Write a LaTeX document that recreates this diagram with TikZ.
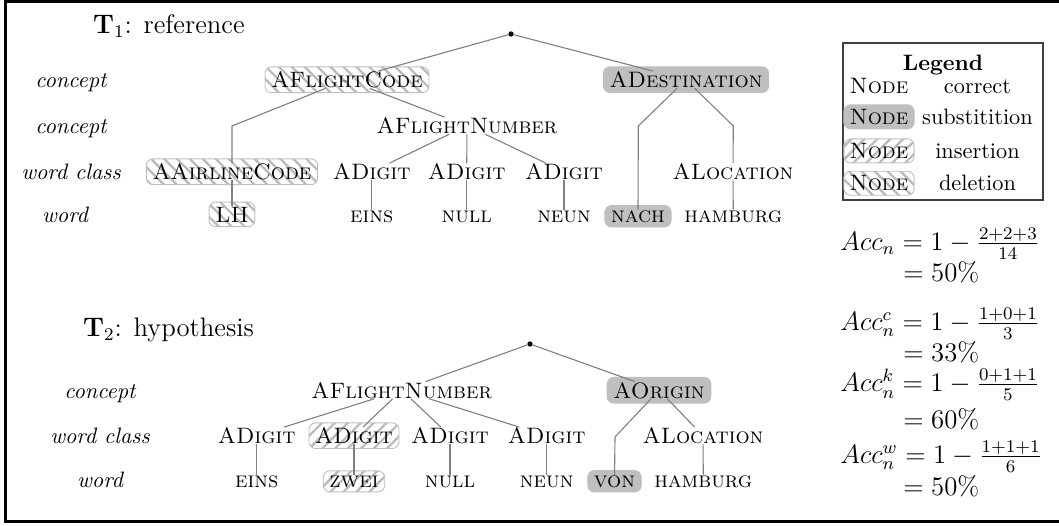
\documentclass[tikz,border=0pt]{standalone}
\usepackage{amsmath}
\usetikzlibrary{fit,backgrounds,patterns.meta}
\begin{document}
\begin{tikzpicture}[x=0.4484pt,y=-0.4484pt,
  tn/.style={inner sep=0pt, anchor=base},
  lab/.style={inner sep=0pt, anchor=base, font=\itshape},
  link/.style={draw=gray, line width=0.5pt},
  rootdot/.style={circle, fill=black, inner sep=0pt, minimum size=2.4pt},
  boxbase/.style={rounded corners=3pt, inner xsep=2.6pt, inner ysep=1.9pt},
  subbox/.style={boxbase, fill=gray!50, draw=gray!50, line width=0.4pt},
  hatchbox/.style={boxbase, draw=gray!50, line width=0.4pt, pattern color=gray!55},
  insbox/.style={hatchbox, pattern={Lines[angle=45,distance=4.1pt,line width=1pt]}},
  delbox/.style={hatchbox, pattern={Lines[angle=-45,distance=4.1pt,line width=1pt]}},
  eqn/.style={inner sep=0pt, anchor=base west, font=\large},
]
\useasboundingbox (0,0) rectangle (1059,525);

% outer frame (open on the right)
\draw[line width=1.2pt] (1060,1.5) -- (5.5,1.5) -- (5.5,521.5) -- (1060,521.5);

% ---------------- T1: reference ----------------
\node[eqn] (t1) at (92.7,33.3) {$\mathbf{T}_1$: reference};

\node[lab] (c1a) at (71,87.5)  {concept};
\node[lab] (c1b) at (71,133.5) {concept};
\node[lab] (c1c) at (71,179.5) {word class};
\node[lab] (c1d) at (65,222)   {word};

\node[rootdot] (r1) at (511,34) {};
\node[tn] (afc) at (347,87.5)  {\textsc{AFlightCode}};
\node[tn] (ade) at (686,87.5)  {\textsc{ADestination}};
\node[tn] (afn) at (467,133.5) {\textsc{AFlightNumber}};
\node[tn] (aac) at (232,179.5) {\textsc{AAirlineCode}};
\node[tn] (ad1) at (371.7,179.5) {\textsc{ADigit}};
\node[tn] (ad2) at (466.7,179.5) {\textsc{ADigit}};
\node[tn] (ad3) at (564,179.5) {\textsc{ADigit}};
\node[tn] (alo) at (733,179.5) {\textsc{ALocation}};
\node[tn] (lh)  at (232,222)   {\textsc{LH}};
\node[tn] (w1)  at (371.7,222) {\textsc{eins}};
\node[tn] (w2)  at (466.7,222) {\textsc{null}};
\node[tn] (w3)  at (564,222)   {\textsc{neun}};
\node[tn] (nach) at (638,222)  {\textsc{nach}};
\node[tn] (hh)  at (733.3,222) {\textsc{hamburg}};

\coordinate (k1) at (232,126);
\coordinate (k2) at (638.3,126);
\coordinate (k3) at (733.3,126);

\begin{pgfonlayer}{background}
  \node[delbox, fit=(afc)] {};
  \node[delbox, fit=(aac)] {};
  \node[delbox, fit=(lh)] {};
  \node[subbox, fit=(ade)] {};
  \node[subbox, fit=(nach)] {};
\end{pgfonlayer}

\draw[link] (r1) -- (afc);
\draw[link] (r1) -- (ade);
\draw[link] (afc) -- (k1) -- (aac);
\draw[link] (aac) -- (lh);
\draw[link] (afc) -- (afn);
\draw[link] (afn) -- (ad1);
\draw[link] (afn) -- (ad2);
\draw[link] (afn) -- (ad3);
\draw[link] (ad1) -- (w1);
\draw[link] (ad2) -- (w2);
\draw[link] (ad3) -- (w3);
\draw[link] (ade) -- (k2) -- (nach);
\draw[link] (ade) -- (k3) -- (alo);
\draw[link] (alo) -- (hh);

% ---------------- T2: hypothesis ----------------
\node[eqn] (t2) at (82.7,336.7) {$\mathbf{T}_2$: hypothesis};

\node[lab] (c2a) at (100,398)   {concept};
\node[lab] (c2b) at (100,443.5) {word class};
\node[lab] (c2c) at (100,487)   {word};

\node[rootdot] (r2) at (530,344) {};
\node[tn] (bfn) at (401.7,398) {\textsc{AFlightNumber}};
\node[tn] (bor) at (659,398)   {\textsc{AOrigin}};
\node[tn] (bd1) at (256.7,443.5) {\textsc{ADigit}};
\node[tn] (bd2) at (354,443.5) {\textsc{ADigit}};
\node[tn] (bd3) at (450,443.5) {\textsc{ADigit}};
\node[tn] (bd4) at (546.7,443.5) {\textsc{ADigit}};
\node[tn] (blo) at (703,443.5) {\textsc{ALocation}};
\node[tn] (v1)  at (256.7,487) {\textsc{eins}};
\node[tn] (v2)  at (354,487)   {\textsc{zwei}};
\node[tn] (v3)  at (450,487)   {\textsc{null}};
\node[tn] (v4)  at (546.7,487) {\textsc{neun}};
\node[tn] (von) at (614.5,487) {\textsc{von}};
\node[tn] (bhh) at (703.3,487) {\textsc{hamburg}};

\coordinate (k4) at (615,437);

\begin{pgfonlayer}{background}
  \node[insbox, fit=(bd2)] {};
  \node[insbox, fit=(v2)] {};
  \node[subbox, fit=(bor)] {};
  \node[subbox, fit=(von)] {};
\end{pgfonlayer}

\draw[link] (r2) -- (bfn);
\draw[link] (r2) -- (bor);
\draw[link] (bfn) -- (bd1);
\draw[link] (bfn) -- (bd2);
\draw[link] (bfn) -- (bd3);
\draw[link] (bfn) -- (bd4);
\draw[link] (bd1) -- (v1);
\draw[link] (bd2) -- (v2);
\draw[link] (bd3) -- (v3);
\draw[link] (bd4) -- (v4);
\draw[link] (bor) -- (k4) -- (von);
\draw[link] (bor) -- (blo);
\draw[link] (blo) -- (bhh);

% ---------------- legend ----------------
\draw[black!75, line width=0.5pt] (843,43) rectangle (1043,200);
\node[tn, font=\bfseries] (lgt) at (943,70) {Legend};
\node[tn] (lg1) at (879,93.3)  {\textsc{Node}};
\node[tn, subbox] (lg2) at (879,124.3) {\textsc{Node}};
\node[tn, insbox] (lg3) at (879,158.3) {\textsc{Node}};
\node[tn, delbox] (lg4) at (879,190.7) {\textsc{Node}};
\node[tn] (lt1) at (977.5,93.3)  {correct};
\node[tn] (lt2) at (977.5,124.3) {substitition};
\node[tn] (lt3) at (977.5,158.3) {insertion};
\node[tn] (lt4) at (977.5,190.7) {deletion};

% ---------------- accuracies ----------------
\node[eqn] (e1a) at (840,250)   {$Acc_n = 1 - \tfrac{2+2+3}{14}$};
\node[eqn] (e1b) at (903,281)   {$= 50\%$};
\node[eqn] (e2a) at (840,330)   {$Acc^c_n = 1 - \tfrac{1+0+1}{3}$};
\node[eqn] (e2b) at (903,361.5) {$= 33\%$};
\node[eqn] (e3a) at (840,391.5) {$Acc^k_n = 1 - \tfrac{0+1+1}{5}$};
\node[eqn] (e3b) at (903,428)   {$= 60\%$};
\node[eqn] (e4a) at (840,463)   {$Acc^w_n = 1 - \tfrac{1+1+1}{6}$};
\node[eqn] (e4b) at (903,495)   {$= 50\%$};
\end{tikzpicture}
\end{document}
